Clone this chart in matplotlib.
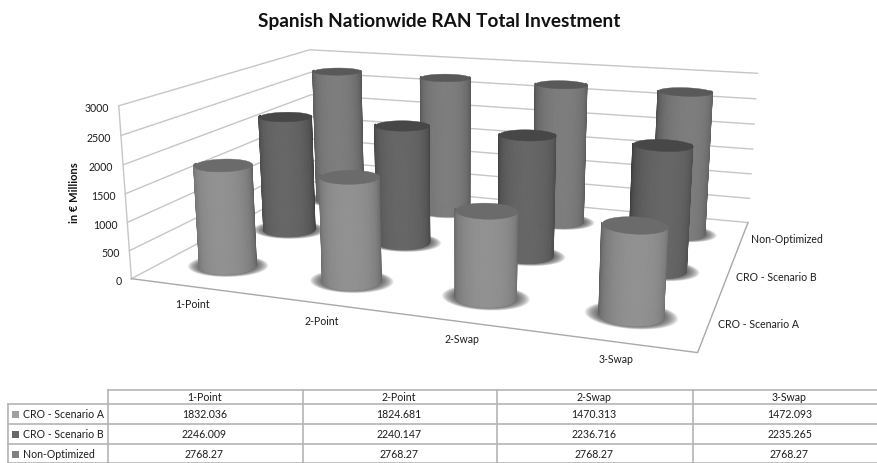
import numpy as np
import matplotlib
matplotlib.use('Agg')
import matplotlib.pyplot as plt
from mpl_toolkits.mplot3d import proj3d
from mpl_toolkits.mplot3d.art3d import Poly3DCollection

plt.rcParams['font.family'] = ['Lato', 'DejaVu Sans']

categories = ['1-Point', '2-Point', '2-Swap', '3-Swap']
series_names = ['CRO - Scenario A', 'CRO - Scenario B', 'Non-Optimized']
scenario_a = [1832.036, 1824.681, 1470.313, 1472.093]
scenario_b = [2246.009, 2240.147, 2236.716, 2235.265]
non_optimized = [2768.27, 2768.27, 2768.27, 2768.27]
z_ticks = [0, 500, 1000, 1500, 2000, 2500, 3000]

series_values = [scenario_a, scenario_b, non_optimized]
centre_grey = [0.57, 0.40, 0.49]
edge_grey = [0.37, 0.24, 0.30]
top_grey = [0.42, 0.28, 0.35]
key_colors = ['#a0a0a0', '#666666', '#808080']

text_color = '#1c1c1c'
x_lo, x_hi, y_lo, y_hi = -0.5, 3.5, -0.5, 2.5
rx, ry = 0.21, 0.20

fig = plt.figure(figsize=(8.78, 4.63), dpi=100)

# square 3D axes, camera set so the box sits across the upper part of the figure
W, cx, cy = 306.02, 459.23, 289.12
ax = fig.add_axes([(cx - W / 2) / 878, (cy - W / 2) / 463, W / 878, W / 463], projection='3d')
ax.set_xlim(x_lo, x_hi, view_margin=0)
ax.set_ylim(y_lo, y_hi, view_margin=0)
ax.set_zlim(0, 3000, view_margin=0)
ax.view_init(elev=14.016, azim=-70.665, roll=-0.0295)
ax.set_proj_type('persp', focal_length=0.6955)
ax.set_box_aspect((1, 0.7226, 0.3132), zoom=2.1287)
ax.set_axis_off()
ax.computed_zorder = False
ax.patch.set_visible(False)


def add_poly(verts, **kw):
    poly = Poly3DCollection(verts, **kw)
    ax.add_collection3d(poly)
    poly.set_clip_on(False)


def label_at(x, y, z, text, dx, dy, **kw):
    # text placed a few pixels away from a projected data point
    x2, y2, _ = proj3d.proj_transform(x, y, z, ax.get_proj())
    ax.annotate(text, xy=(x2, y2), xytext=(dx, dy), textcoords='offset pixels',
                annotation_clip=False, fontsize=7.6, color=text_color, **kw)


# gridlines on the two walls, then the floor edges
for z in z_ticks:
    ax.plot([x_lo, x_lo, x_hi], [y_lo, y_hi, y_hi], [z, z, z], color='#c6c6c6', lw=1, zorder=1, clip_on=False)
ax.plot([x_lo, x_lo], [y_lo, y_lo], [0, 3000], color='#c6c6c6', lw=1, zorder=1, clip_on=False)
ax.plot([x_lo, x_hi, x_hi], [y_lo, y_lo, y_hi], [0, 0, 0], color='#a8a8a8', lw=1, zorder=1, clip_on=False)

# cylinders, back row first
cam = np.radians(-70.665)
order = 10
t = np.linspace(0, 2 * np.pi, 73)
th = np.linspace(0, 2 * np.pi, 61)
for j in [2, 1, 0]:
    for i in range(4):
        h = series_values[j][i]
        # soft shadow on the floor
        for sc in np.linspace(1.45, 1.02, 14):
            sy = 1 + (sc - 1) * 0.6
            ring = [list(zip(i + sc * rx * np.cos(t), j + sy * ry * np.sin(t), np.zeros_like(t)))]
            add_poly(ring, facecolors=(0.25, 0.25, 0.25, 0.09), edgecolors='none', zorder=order)
        order += 1

        # only the side facing the viewer is drawn
        verts, cols = [], []
        for a, b in zip(th[:-1], th[1:]):
            lit = np.cos(0.5 * (a + b) - cam)
            if lit < -0.2:
                continue
            verts.append([(i + rx * np.cos(a), j + ry * np.sin(a), 0), (i + rx * np.cos(b), j + ry * np.sin(b), 0),
                          (i + rx * np.cos(b), j + ry * np.sin(b), h), (i + rx * np.cos(a), j + ry * np.sin(a), h)])
            g = edge_grey[j] + (centre_grey[j] - edge_grey[j]) * max(0.0, lit) ** 0.7
            cols.append((g, g, g))
        add_poly(verts, facecolors=cols, edgecolors=cols, linewidths=0.7, zorder=order)
        order += 1

        g = top_grey[j]
        top = [list(zip(i + rx * np.cos(t), j + ry * np.sin(t), np.full_like(t, h)))]
        add_poly(top, facecolors=[(g, g, g)], edgecolors=[(g, g, g)], linewidths=0.3, zorder=order)
        order += 1

for z in z_ticks:
    label_at(x_lo, y_lo, z, str(z), -10, -3, ha='right', va='center')
for i, c in enumerate(categories):
    label_at(i, y_lo, 0, c, 0, -18, ha='center', va='center')
for j, c in enumerate(series_names):
    label_at(x_hi, j, 0, c, 9, 0, ha='left', va='center')

# title, axis title and data table drawn in figure pixels
over = fig.add_axes([0, 0, 1, 1], zorder=5)
over.set_xlim(0, 878)
over.set_ylim(463, 0)
over.axis('off')

over.text(439.5, 21, 'Spanish Nationwide RAN Total Investment', ha='center', va='center',
          fontsize=13.7, fontweight='bold', color='#111111')
over.text(75, 193, 'in € Millions', rotation=90, ha='center', va='center',
          fontsize=8, fontweight='bold', color='#111111')

col_edges = [108, 303, 497.5, 693, 888]
row_edges = [390, 404, 424, 444, 463]
line = dict(color='#b4b4b4', lw=1.2, clip_on=True)
over.plot([108, 878], [390, 390], **line)
for y in row_edges[1:]:
    over.plot([8, 878], [y, y], **line)
for x in col_edges[:-1]:
    over.plot([x, x], [390, 463], **line)
over.plot([8, 8], [404, 463], **line)

for k, c in enumerate(categories):
    over.text(0.5 * (col_edges[k] + col_edges[k + 1]) - 1, 397.5, c, ha='center', va='center',
              fontsize=7.6, color=text_color)
for r in range(3):
    yc = 0.5 * (row_edges[r + 1] + row_edges[r + 2]) + 0.5
    over.add_patch(plt.Rectangle((12.5, yc - 3.5), 7, 7, color=key_colors[r], lw=0))
    over.text(23, yc, series_names[r], ha='left', va='center', fontsize=7.6, color=text_color)
    for k in range(4):
        over.text(0.5 * (col_edges[k] + col_edges[k + 1]) - 1, yc, str(series_values[r][k]), ha='center', va='center',
                  fontsize=7.6, color=text_color)

fig.savefig('out.png', dpi=100)
